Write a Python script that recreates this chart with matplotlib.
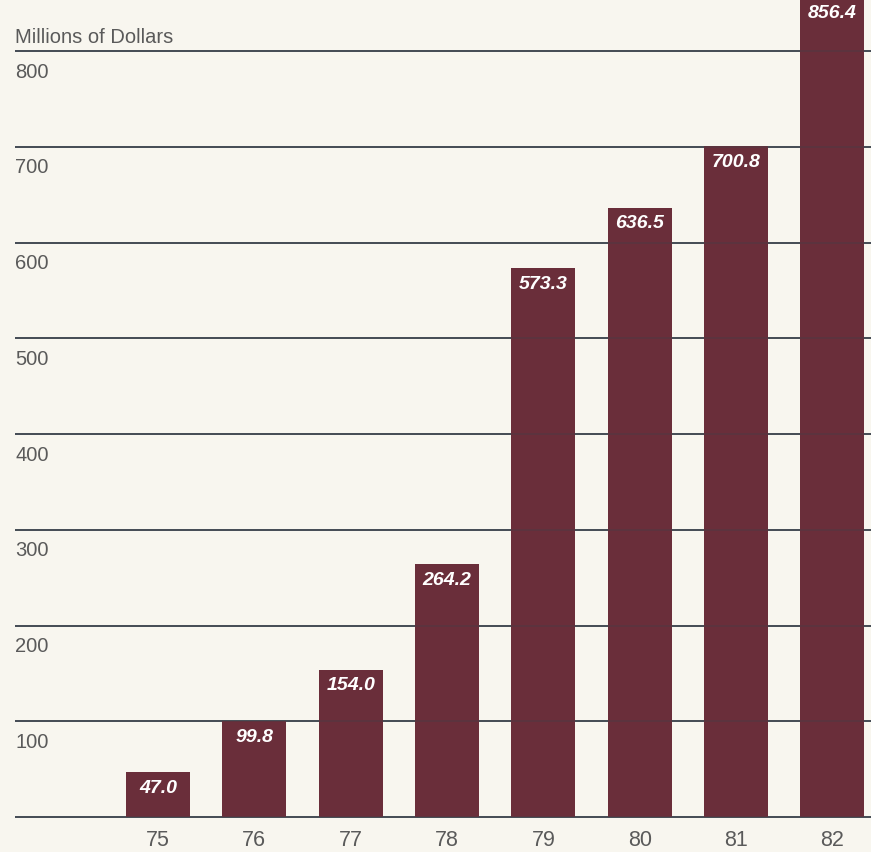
import numpy as np
import matplotlib.pyplot as plt

years = ['75', '76', '77', '78', '79', '80', '81', '82']
values = [47.0, 99.8, 154.0, 264.2, 573.3, 636.5, 700.8, 856.4]
grid_levels = [0, 100, 200, 300, 400, 500, 600, 700, 800]

bg = '#f8f6ef'
bar_color = '#6a2e3a'
text_color = '#5a5a5a'
plt.rcParams['font.family'] = ['Liberation Sans', 'DejaVu Sans']

fig = plt.figure(figsize=(8.71, 8.52), dpi=100, facecolor=bg)
ax = fig.add_axes([0, 0, 1, 1], facecolor=bg)

x = np.arange(len(years))
ax.bar(x, values, width=0.665, color=bar_color, zorder=2)

# px per unit: ~96.3 along x, ~0.9575 px per unit along y
ax.set_xlim(-1.64, 7.40)
ax.set_ylim(-36.5, 853.3)
x_start = -1.64 + 15 / 96.3

for lvl in grid_levels:
    ax.hlines(lvl, x_start, 7.40, color='#4a525a', lw=1.4, zorder=1)
    ax.hlines(lvl, x_start, 7.40, color='#3a4048', lw=1.2, alpha=0.35, zorder=3)
    if lvl > 0:
        ax.text(x_start, lvl - 22, str(lvl), ha='left', va='center',
                fontsize=14.5, color=text_color)

ax.text(x_start, 800 + 14, 'Millions of Dollars', ha='left', va='center',
        fontsize=14.5, color=text_color)

for xi, v, yr in zip(x, values, years):
    ax.text(xi, v - 17, f'{v:.1f}', ha='center', va='center', fontsize=14,
            color='white', fontweight='bold', style='italic', zorder=4)
    ax.text(xi, -24, yr, ha='center', va='center', fontsize=15.5,
            color=text_color)

ax.axis('off')
fig.savefig('out.png', dpi=100, facecolor=bg)
